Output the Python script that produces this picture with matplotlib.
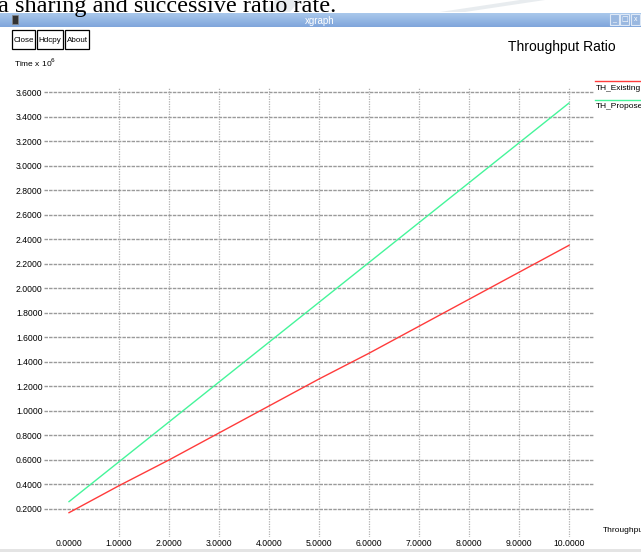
import matplotlib
matplotlib.use("Agg")
import matplotlib.pyplot as plt
from matplotlib.patches import Rectangle
from matplotlib.lines import Line2D
import numpy as np

# ---- data ----
x_values = [0, 1, 2, 3, 4, 5, 6, 7, 8, 9, 10]
th_existing = [0.17, 0.39, 0.60, 0.82, 1.04, 1.26, 1.47, 1.69, 1.91, 2.13, 2.35]
th_proposed = [0.26, 0.585, 0.91, 1.235, 1.56, 1.885, 2.21, 2.535, 2.86, 3.185, 3.51]
y_ticks = [0.2, 0.4, 0.6, 0.8, 1.0, 1.2, 1.4, 1.6, 1.8, 2.0, 2.2, 2.4, 2.6, 2.8, 3.0, 3.2, 3.4, 3.6]
x_ticks = [0, 1, 2, 3, 4, 5, 6, 7, 8, 9, 10]
series_names = ["TH_Existing", "TH_Proposed"]
series_colors = ["#ff3b3b", "#45f59a"]

W, H = 641, 552
fig = plt.figure(figsize=(W / 100, H / 100), dpi=100)
fig.patch.set_facecolor("white")

SANS = ["Liberation Sans", "DejaVu Sans"]

def px(x, y):
    return x / W, 1 - y / H

# ---- page text above window (cut off) ----
fig.text(*px(-2, 12), "a sharing and successive ratio rate.", family="Liberation Serif",
         fontsize=17.5, ha="left", va="baseline", color="black")

# faint watermark stripes
for (x0, x1) in [(265, 300), (440, 545)]:
    fig.patches.append(plt.Polygon([px(x0, 12), px(x0 + 25, 12), px(x1, 0), px(x1 - 25, 0)],
                                   closed=True, transform=fig.transFigure,
                                   facecolor="#e8ecef", edgecolor="none", zorder=-1))

# ---- title bar ----
bar_top, bar_bot = 13, 27
n = 14
cols = np.linspace([0.66, 0.78, 0.92], [0.50, 0.65, 0.86], n)
for i in range(n):
    y0 = bar_top + (i + 1) * (bar_bot - bar_top) / n
    fig.patches.append(Rectangle(px(0, y0), 1, (bar_bot - bar_top) / n / H + 0.0005,
                                 transform=fig.transFigure, facecolor=cols[i], edgecolor="none", zorder=1))
fig.text(*px(320, 20.5), "xgraph", family=SANS, fontsize=7, color="white", ha="center", va="center", zorder=3)
# window icon
fig.patches.append(Rectangle(px(12, 24), 6 / W, 9 / H, transform=fig.transFigure,
                             facecolor="#333333", edgecolor="#888888", lw=0.5, zorder=3))
# window buttons right
for bx in [610, 620, 631]:
    fig.patches.append(Rectangle(px(bx, 25), 9 / W, 11 / H, transform=fig.transFigure,
                                 facecolor="#9ab8e0", edgecolor="#dde8f6", lw=0.8, zorder=3))
fig.text(*px(614.5, 19.5), "_", family=SANS, fontsize=5, color="white", ha="center", va="center", zorder=4)
fig.text(*px(624.5, 19.5), "□", fontsize=5, color="white", ha="center", va="center", zorder=4)
fig.text(*px(636, 19.5), "x", family=SANS, fontsize=5, color="white", ha="center", va="center", zorder=4)

# ---- buttons ----
for label, x0, x1 in [("Close", 12, 35), ("Hdcpy", 37, 63), ("About", 65, 89)]:
    fig.patches.append(Rectangle(px(x0, 49), (x1 - x0) / W, 19 / H, transform=fig.transFigure,
                                 facecolor="white", edgecolor="black", lw=0.9, zorder=3))
    fig.text(*px((x0 + x1) / 2, 40), label, family=SANS, fontsize=5.8, ha="center", va="center", zorder=4)

# ---- title and axis labels ----
fig.text(*px(508, 47), "Throughput Ratio", family=SANS, fontsize=10, ha="left", va="center")
fig.text(*px(14, 63), r"Time x 10$^{6}$", family=SANS, fontsize=6, ha="left", va="center")
fig.text(*px(603, 530), "Throughput", family=SANS, fontsize=6, ha="left", va="center")

# ---- axes ----
ax_l, ax_r, ax_t, ax_b = 44, 594, 87, 537
ax = fig.add_axes([ax_l / W, 1 - ax_b / H, (ax_r - ax_l) / W, (ax_b - ax_t) / H])
ax.set_facecolor("none")
for s in ax.spines.values():
    s.set_visible(False)

ppu_y = (509 - 92) / 3.4
ylo = 0.2 - (ax_b - 509) / ppu_y
yhi = 3.6 + (92 - ax_t) / ppu_y
ppu_x = (569 - 69) / 10
xlo = 0 - (69 - ax_l) / ppu_x
xhi = 10 + (ax_r - 569) / ppu_x
ax.set_xlim(xlo, xhi)
ax.set_ylim(ylo, yhi)

for yv in y_ticks:
    ax.axhline(yv, color="#9a9a9a", lw=1.0, linestyle=(0, (2.5, 0.8)), zorder=1)
for xv in x_ticks[1:]:
    ax.axvline(xv, color="#b0b0b0", lw=0.9, linestyle=(0, (1, 1)), zorder=1)

ax.set_yticks(y_ticks)
ax.set_yticklabels([f"{v:.4f}" for v in y_ticks], family=SANS, fontsize=6.2)
ax.set_xticks(x_ticks)
ax.set_xticklabels([f"{v:.4f}" for v in x_ticks], family=SANS, fontsize=6.2)
ax.tick_params(axis="both", length=0)
ax.tick_params(axis="y", pad=1)
ax.tick_params(axis="x", pad=1.5)

ax.plot(x_values, th_existing, color=series_colors[0], lw=1.0, zorder=3)
ax.plot(x_values, th_proposed, color=series_colors[1], lw=1.0, zorder=3)

# ---- legend (xgraph style) ----
for i, (name, c) in enumerate(zip(series_names, series_colors)):
    yl = 81 + i * 19
    fig.lines.append(Line2D([595 / W, 1], [1 - yl / H, 1 - yl / H], transform=fig.transFigure,
                            color=c, lw=1.0))
    fig.text(*px(596, yl + 7), name, family=SANS, fontsize=6, ha="left", va="center")

# bottom gray strip
fig.patches.append(Rectangle((0, 0), 1, 3 / H, transform=fig.transFigure,
                             facecolor="#e4e4e4", edgecolor="none", zorder=-2))

fig.savefig("out.png", dpi=100)
